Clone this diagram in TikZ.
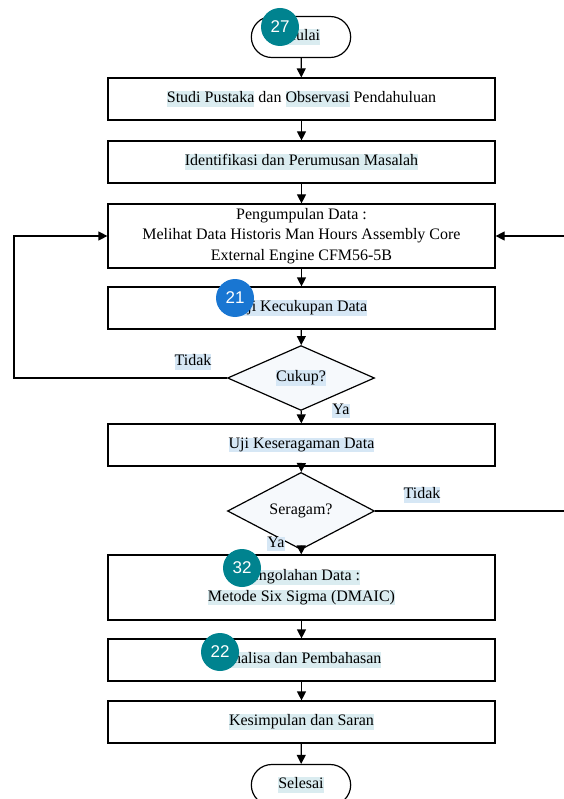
\documentclass[tikz,border=0pt]{standalone}
\usepackage{fontspec}
\usepackage{xcolor}
\setmainfont{Liberation Serif}
\newfontfamily\badgefont{Liberation Sans}
\usetikzlibrary{arrows.meta,shapes.geometric,shapes.misc}

\definecolor{hlteal}{RGB}{218,236,240}
\definecolor{hlblue}{RGB}{214,231,245}
\definecolor{badgeteal}{RGB}{0,131,143}
\definecolor{badgeblue}{RGB}{25,118,210}
\definecolor{diafill}{RGB}{246,249,252}

\newcommand{\hl}[2][hlteal]{{\setlength{\fboxsep}{0pt}\colorbox{#1}{\rule[-4pt]{0pt}{14pt}#2}}}

\tikzset{
    flowbox/.style={draw, line width=1.2pt, minimum width=387pt, minimum height=42pt, align=center, font=\fontsize{16}{20.5}\selectfont},
    terminal/.style={draw, line width=1.2pt, rounded rectangle, minimum width=106pt, minimum height=41pt, font=\fontsize{16}{20}\selectfont},
    decision/.style={draw, line width=1.2pt, diamond, fill=diafill, minimum width=147pt, minimum height=58pt, inner sep=0pt, font=\fontsize{16}{20}\selectfont},
    answer/.style={font=\fontsize{16}{20}\selectfont, inner sep=0pt},
    flowarrow/.style={line width=1.2pt, -{Triangle[length=9pt,width=9pt]}},
    badge/.style={circle, fill=#1, text=white, minimum size=38pt, inner sep=0pt, font=\badgefont\fontsize{17}{17}\selectfont}
}

\begin{document}
\begin{tikzpicture}[x=1pt, y=-1pt]
    \useasboundingbox (0,0) rectangle (563,799);

    % Terminators
    \node[terminal] (mulai) at (301,37) {\hl{Mulai}};
    \node[terminal] (selesai) at (301,785) {\hl{Selesai}};

    % Process boxes
    \node[flowbox] (studi) at (301.5,99) {\hl{Studi Pustaka} dan \hl{Observasi} Pendahuluan};
    \node[flowbox] (identifikasi) at (301.5,162) {\hl{Identifikasi dan Perumusan Masalah}};
    \node[flowbox, minimum height=64pt] (pengumpulan) at (301.5,236) {Pengumpulan Data :\\Melihat Data Historis Man Hours Assembly Core\\External Engine CFM56-5B};
    \node[flowbox] (kecukupan) at (301.5,308) {\hl[hlblue]{Uji Kecukupan Data}};
    \node[flowbox] (keseragaman) at (301.5,445) {\hl[hlblue]{Uji Keseragaman Data}};
    \node[flowbox, minimum height=65pt] (pengolahan) at (301.5,587.5) {\hl{Pengolahan Data :}\\\hl{Metode Six Sigma (DMAIC)}};
    \node[flowbox] (analisa) at (301.5,660) {\hl{Analisa dan Pembahasan}};
    \node[flowbox] (kesimpulan) at (301.5,722) {\hl{Kesimpulan dan Saran}};

    % Decisions
    \node[decision] (cukup) at (301,378) {\hl[hlblue]{Cukup?}};
    \node[decision] (seragam) at (301,511) {Seragam?};

    % Straight arrows down the chart
    \foreach \a/\b in {mulai/studi, studi/identifikasi, identifikasi/pengumpulan, pengumpulan/kecukupan, kecukupan/cukup, cukup/keseragaman, seragam/pengolahan, pengolahan/analisa, analisa/kesimpulan, kesimpulan/selesai} {
        \draw[flowarrow] (\a) -- (\b);
    }
    \draw[flowarrow] (keseragaman) -- (seragam);

    % Feedback loops
    \coordinate (lft) at (14,0);
    \coordinate (rgt) at (580,0);
    \draw[flowarrow] (cukup.west) -- (cukup.west -| lft) |- (pengumpulan.west);
    \draw[flowarrow] (seragam.east) -- (seragam.east -| rgt) |- (pengumpulan.east);

    % Answers
    \node[answer] (tidak1) at (193,362) {\hl[hlblue]{Tidak}};
    \node[answer] (ya1) at (341,411) {\hl[hlblue]{Ya}};
    \node[answer] (tidak2) at (422,495) {\hl[hlblue]{Tidak}};
    \node[answer] (ya2) at (276,544) {\hl[hlblue]{Ya}};

    % Badges
    \node[badge=badgeteal] (b27) at (280,27) {27};
    \node[badge=badgeblue] (b21) at (235,298) {21};
    \node[badge=badgeteal] (b32) at (242,568) {32};
    \node[badge=badgeteal] (b22) at (220,652) {22};
\end{tikzpicture}
\end{document}
